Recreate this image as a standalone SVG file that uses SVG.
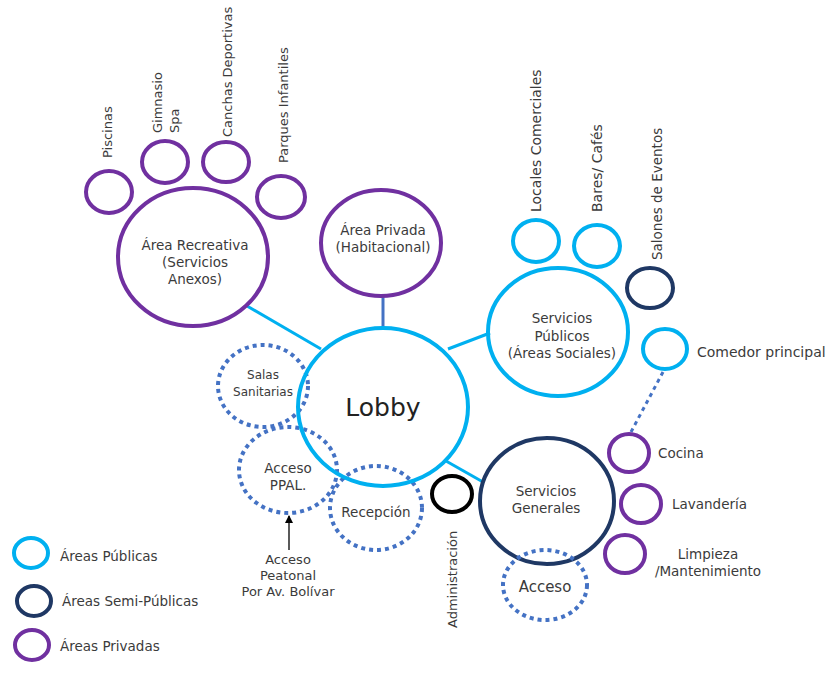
<svg xmlns="http://www.w3.org/2000/svg" width="828" height="674" viewBox="0 0 828 674">
<defs>
<style>
text{font-family:"DejaVu Sans","Liberation Sans",sans-serif;fill:#3b3b3b;font-size:13.5px;dominant-baseline:central}
.c{text-anchor:middle}
.v{font-size:13px}
.s12{font-size:12px}
.s13{font-size:13px}
.s14{font-size:14px}
.s15{font-size:15px}
.s25{font-size:25px;fill:#222}
.pub{fill:none;stroke:#00B0F0;stroke-width:4}
.semi{fill:none;stroke:#1F3864;stroke-width:4}
.priv{fill:none;stroke:#7030A0;stroke-width:4}
.dot{fill:none;stroke:#4472C4;stroke-width:4;stroke-dasharray:4 4}
.blk{fill:none;stroke:#000;stroke-width:4}
.ln{stroke:#00B0F0;stroke-width:3}
</style>
<marker id="ah" markerWidth="8" markerHeight="8" refX="7" refY="4" orient="auto" markerUnits="userSpaceOnUse"><path d="M0,0 L8,4 L0,8 z" fill="#000"/></marker>
</defs>
<rect width="828" height="674" fill="#fff"/>
<g id="connectors">
<line class="ln" x1="247" y1="306" x2="321" y2="349"/>
<line x1="383" y1="297" x2="383" y2="328" stroke="#4472C4" stroke-width="3"/>
<line class="ln" x1="448" y1="349" x2="490" y2="333"/>
<line class="ln" x1="446" y1="461" x2="483" y2="482"/>
<line class="dot" x1="663" y1="372" x2="631" y2="432" style="stroke-width:3"/>
<line x1="289" y1="550" x2="289" y2="516" stroke="#000" stroke-width="1.3" marker-end="url(#ah)"/>
</g>
<g id="salas"><ellipse class="dot" cx="263" cy="386" rx="45" ry="41"/><text class="c s12" x="263" y="375">Salas</text><text class="c s12" x="263" y="392">Sanitarias</text></g>
<g id="accesoppal"><ellipse class="dot" cx="288" cy="470" rx="49" ry="43"/><text class="c" x="288" y="468">Acceso</text><text class="c" x="288" y="485">PPAL.</text></g>
<g id="recepcion"><ellipse class="dot" cx="376" cy="508" rx="46" ry="42"/><text class="c" x="376" y="512">Recepción</text></g>
<g id="lobby"><ellipse class="pub" cx="383" cy="407" rx="85" ry="79"/><text class="c s25" x="383" y="407">Lobby</text></g>
<g id="recreativa"><ellipse class="priv" cx="193" cy="257" rx="75" ry="69"/><text class="c" x="195" y="245">Área Recreativa</text><text class="c" x="195" y="262">(Servicios</text><text class="c" x="195" y="279">Anexos)</text></g>
<g id="piscinas"><ellipse class="priv" cx="109" cy="192" rx="23" ry="21"/><text class="v" transform="translate(107,158) rotate(-90)">Piscinas</text></g>
<g id="gimnasio"><ellipse class="priv" cx="165" cy="162" rx="23" ry="21"/><text class="v" transform="translate(157,133) rotate(-90)">Gimnasio</text><text class="v" transform="translate(174,133) rotate(-90)">Spa</text></g>
<g id="canchas"><ellipse class="priv" cx="226" cy="162" rx="23" ry="20"/><text class="v" transform="translate(227,137) rotate(-90)">Canchas Deportivas</text></g>
<g id="parques"><ellipse class="priv" cx="281" cy="197" rx="24" ry="21"/><text class="v" transform="translate(283,163) rotate(-90)">Parques Infantiles</text></g>
<g id="privada"><ellipse class="priv" cx="381" cy="243" rx="60" ry="53"/><text class="c" x="383" y="230">Área Privada</text><text class="c" x="383" y="247">(Habitacional)</text></g>
<g id="publicos"><ellipse class="pub" cx="558" cy="332" rx="70" ry="64"/><text class="c" x="562" y="318">Servicios</text><text class="c" x="562" y="336">Públicos</text><text class="c" x="562" y="353">(Áreas Sociales)</text></g>
<g id="locales"><ellipse class="pub" cx="536" cy="241" rx="23" ry="21"/><text class="s14" transform="translate(536,212) rotate(-90)">Locales Comerciales</text></g>
<g id="bares"><ellipse class="pub" cx="597" cy="246" rx="23" ry="21"/><text class="s14" transform="translate(597,212) rotate(-90)">Bares/ Cafés</text></g>
<g id="salones"><ellipse class="semi" cx="650" cy="288" rx="23" ry="20"/><text transform="translate(657,260) rotate(-90)">Salones de Eventos</text></g>
<g id="comedor"><ellipse class="pub" cx="665" cy="349" rx="22" ry="20"/><text class="s14" x="697" y="352">Comedor principal</text></g>
<g id="generales"><ellipse class="semi" cx="547" cy="501" rx="67" ry="63"/><text class="c" x="546" y="491">Servicios</text><text class="c" x="546" y="508">Generales</text></g>
<g id="acceso"><ellipse class="dot" cx="545" cy="585" rx="42" ry="35"/><text class="c s15" x="545" y="587">Acceso</text></g>
<g id="administracion"><ellipse class="blk" cx="452" cy="494" rx="20" ry="18"/><text class="v" transform="translate(452,628) rotate(-90)">Administración</text></g>
<g id="cocina"><ellipse class="priv" cx="629" cy="453" rx="20" ry="19"/><text x="658" y="453">Cocina</text></g>
<g id="lavanderia"><ellipse class="priv" cx="641" cy="504" rx="20" ry="19"/><text x="672" y="504">Lavandería</text></g>
<g id="limpieza"><ellipse class="priv" cx="625" cy="554" rx="20" ry="19"/><text class="c" x="708" y="554">Limpieza</text><text class="c" x="708" y="571">/Mantenimiento</text></g>
<g id="peatonal"><text class="c s13" x="288" y="559">Acceso</text><text class="c s13" x="288" y="575">Peatonal</text><text class="c s13" x="288" y="591">Por Av. Bolívar</text></g>
<g id="legend">
<ellipse class="pub" cx="31" cy="553" rx="17" ry="15"/><text x="60" y="556">Áreas Públicas</text>
<ellipse class="semi" cx="34" cy="601" rx="17" ry="15"/><text x="62" y="601">Áreas Semi-Públicas</text>
<ellipse class="priv" cx="32" cy="645" rx="17" ry="15"/><text x="60" y="646">Áreas Privadas</text>
</g>
</svg>
